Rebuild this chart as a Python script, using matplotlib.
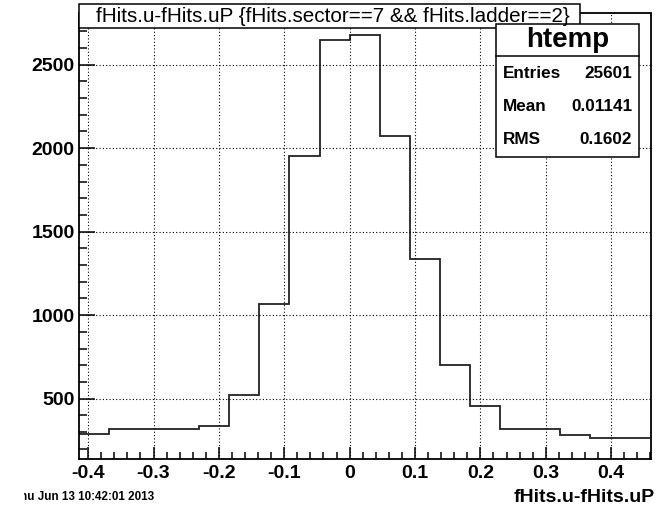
import numpy as np
import matplotlib
matplotlib.use("Agg")
import matplotlib.pyplot as plt
from matplotlib.patches import Rectangle
from matplotlib.lines import Line2D
from matplotlib.ticker import MultipleLocator
from matplotlib.transforms import Bbox, TransformedBbox

plt.rcParams['font.family'] = ['Liberation Sans', 'DejaVu Sans']
plt.rcParams['font.weight'] = 'bold'

# histogram (19 bins)
bin_edges = [-0.414, -0.368, -0.322, -0.276, -0.230, -0.184, -0.138, -0.092, -0.046,
             0.000, 0.046, 0.092, 0.138, 0.184, 0.230, 0.276, 0.322, 0.368, 0.414, 0.460]
counts = [289, 320, 320, 320, 336, 522, 1067, 1955, 2648, 2678,
          2075, 1335, 700, 454, 319, 319, 283, 267, 267]

title = "fHits.u-fHits.uP {fHits.sector==7 && fHits.ladder==2}"
x_label = "fHits.u-fHits.uP"
stats_name = "htemp"
stats_rows = [("Entries", "25601"), ("Mean", "0.01141"), ("RMS", "0.1602")]
date_text = "Thu Jun 13 10:42:01 2013"
x_ticks = [-0.4, -0.3, -0.2, -0.1, 0, 0.1, 0.2, 0.3, 0.4]
x_ticklabels = ["-0.4", "-0.3", "-0.2", "-0.1", "0", "0.1", "0.2", "0.3", "0.4"]

W, H = 671, 511
fig = plt.figure(figsize=(W / 100, H / 100), dpi=100)


def fx(x):
    return x / W


def fy(y):
    return 1 - y / H


ax = fig.add_axes([fx(79), fy(458.5), fx(651 - 79), (458.5 - 13.5) / H])
ax.stairs(counts, bin_edges, baseline=None, color='#222222', lw=1.3)
ax.set_xlim(-0.414, 0.461)
ax.set_ylim(142, 2806)

ax.set_xticks(x_ticks)
ax.set_xticklabels(x_ticklabels)
ax.xaxis.set_minor_locator(MultipleLocator(0.02))
ax.yaxis.set_major_locator(MultipleLocator(500))
ax.yaxis.set_minor_locator(MultipleLocator(100))

ax.grid(True, which='major', linestyle=(0, (1, 2)), color='black', lw=0.8)
ax.tick_params(axis='both', which='both', direction='in', width=1.1, colors='black',
               top=False, right=False, labelsize=14)
ax.tick_params(axis='x', which='major', length=8.6, pad=4.5)
ax.tick_params(axis='x', which='minor', length=4.8)
ax.tick_params(axis='y', which='major', length=11.5, pad=3)
ax.tick_params(axis='y', which='minor', length=5.8)
for sp in ax.spines.values():
    sp.set_linewidth(1.3)

# title box
fig.add_artist(Rectangle((fx(78.5), fy(28)), fx(579.5 - 78.5), (28 - 4.5) / H,
                         transform=fig.transFigure, facecolor='white',
                         edgecolor='black', lw=1.1))
fig.text(fx(333), fy(16.5), title, ha='center', va='center', fontsize=14.9,
         fontweight='normal')

# stats box
fig.add_artist(Rectangle((fx(496), fy(157)), fx(639 - 496), (157 - 24) / H,
                         transform=fig.transFigure, facecolor='white',
                         edgecolor='black', lw=1.1))
fig.add_artist(Line2D([fx(496), fx(639)], [fy(55.7), fy(55.7)],
                      transform=fig.transFigure, color='black', lw=1.1))
fig.text(fx(567.5), fy(40), stats_name, ha='center', va='center', fontsize=20)
for i, (k, v) in enumerate(stats_rows):
    yy = fy(73.3 + i * 33.3)
    fig.text(fx(502.5), yy, k, ha='left', va='center', fontsize=12.3)
    fig.text(fx(632), yy, v, ha='right', va='center', fontsize=12.3)

fig.text(fx(655), fy(497), x_label, ha='right', va='center', fontsize=14)

# date stamp, its start is cut off in the original
dt = fig.text(fx(154), fy(497), date_text, ha='right', va='center', fontsize=8.4)
dt.set_clip_on(True)
dt.set_clip_box(TransformedBbox(Bbox([[fx(24), 0], [1, 1]]), fig.transFigure))

fig.savefig("out.png", dpi=100)
